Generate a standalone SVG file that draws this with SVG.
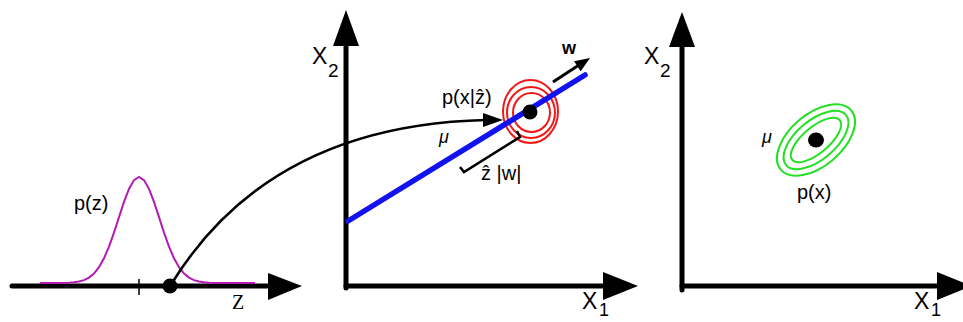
<svg xmlns="http://www.w3.org/2000/svg" width="963" height="322" viewBox="0 0 963 322">
<defs>
<style>
.ax{stroke:#000;stroke-width:5;stroke-linecap:round;fill:none}
.ah{fill:#000}
.lbl{font-family:"Liberation Sans",Arial,"DejaVu Sans",sans-serif;fill:#000}
.mu{font-family:"Liberation Sans",Arial,"DejaVu Sans",sans-serif;font-style:italic;font-size:18px;fill:#000}
.red{fill:none;stroke:#f01818;stroke-width:2}
.grn{fill:none;stroke:#22e022;stroke-width:2}
</style>
</defs>
<rect width="963" height="322" fill="#fff"/>

<g id="left-panel">
  <g id="z-axis">
    <line class="ax" x1="12" y1="286" x2="272" y2="286"/>
    <polygon class="ah" points="268,273 302,286 268,300"/>
    <text x="232" y="309" font-family="'Liberation Serif','Times New Roman',serif" font-size="20">Z</text>
  </g>
  <g id="pz">
    <polyline fill="none" stroke="#b31bb3" stroke-width="2" points="40,283 59,283 69,282.7 74,282.3 79,281.5 84,280.1 89,277.6 94,273.5 99,267.2 104,258.3 109,246.7 114,232.6 119,217.1 124,201.9 129,188.9 134,180.1 139,177 144,180.1 149,188.9 154,201.9 159,217.1 164,232.6 169,246.7 174,258.3 179,267.2 184,273.5 189,277.6 194,280.1 199,281.5 204,282.3 209,282.7 219,283 255,283"/>
    <text class="lbl" x="74" y="210" font-size="20">p(z)</text>
  </g>
  <line id="tick" x1="139" y1="279" x2="139" y2="295" stroke="#000" stroke-width="1.5"/>
  <circle id="zhat" cx="170" cy="286" r="7.5" fill="#000"/>
</g>

<g id="middle-panel">
  <g id="mid-axes">
    <line class="ax" x1="346" y1="288" x2="346" y2="44"/>
    <polygon class="ah" points="333,46 346,10 359,46"/>
    <line class="ax" x1="346" y1="286" x2="606" y2="286"/>
    <polygon class="ah" points="603,272 638,286 603,300"/>
    <text class="lbl" x="312" y="64" font-size="23">X</text>
    <text class="lbl" x="328" y="77" font-size="19">2</text>
    <text class="lbl" x="582" y="309" font-size="23">X</text>
    <text class="lbl" x="599" y="316" font-size="18">1</text>
  </g>
  <g id="pxz">
    <ellipse class="red" cx="530.5" cy="111.5" rx="27.5" ry="31.5"/>
    <ellipse class="red" cx="531" cy="112.5" rx="24" ry="25.5"/>
    <ellipse class="red" cx="531.5" cy="112.5" rx="18.5" ry="19.5"/>
    <text class="lbl" x="442" y="104" font-size="20">p(x|ẑ)</text>
  </g>
  <g id="w-line">
    <line x1="348" y1="221" x2="585" y2="75" stroke="#1212ee" stroke-width="5.5" stroke-linecap="round"/>
  </g>
  <circle id="mean-point" cx="530" cy="112" r="7.5" fill="#000"/>
  <g id="w-vector">
    <line x1="553" y1="82" x2="579" y2="65" stroke="#000" stroke-width="3"/>
    <polygon class="ah" points="590,58 574.1,61.2 580.7,71.2"/>
    <text class="lbl" x="562" y="54" font-size="18" font-weight="bold">w</text>
  </g>
  <g id="zw-bracket">
    <path d="M 460 167 L 464 172 L 520 137 L 517 131" fill="none" stroke="#000" stroke-width="2.5"/>
    <text class="lbl" x="481" y="180" font-size="20">ẑ |w|</text>
  </g>
  <text class="mu" x="439" y="143">μ</text>
</g>

<g id="right-panel">
  <g id="right-axes">
    <line class="ax" x1="682" y1="290" x2="682" y2="45"/>
    <polygon class="ah" points="669,47 682,12 695,47"/>
    <line class="ax" x1="682" y1="286" x2="940" y2="286"/>
    <polygon class="ah" points="937,272 972,286 937,300"/>
    <text class="lbl" x="644" y="64" font-size="23">X</text>
    <text class="lbl" x="660" y="77" font-size="19">2</text>
    <text class="lbl" x="914" y="309" font-size="23">X</text>
    <text class="lbl" x="931" y="316" font-size="18">1</text>
  </g>
  <g id="px">
    <g transform="translate(816 140) rotate(-40)">
      <ellipse class="grn" cx="0" cy="0" rx="46" ry="26"/>
      <ellipse class="grn" cx="0" cy="0" rx="39" ry="19.5"/>
      <ellipse class="grn" cx="0" cy="0" rx="31" ry="13"/>
    </g>
    <ellipse cx="816" cy="140" rx="8" ry="7.5" fill="#000"/>
    <text class="mu" x="762" y="143">μ</text>
    <text class="lbl" x="797" y="199" font-size="20">p(x)</text>
  </g>
</g>

<g id="connectors">
  <path d="M 172 283 Q 270 125 486 120" fill="none" stroke="#000" stroke-width="2.5"/>
  <polygon class="ah" points="483,113 503,120 483,127"/>
</g>
</svg>
